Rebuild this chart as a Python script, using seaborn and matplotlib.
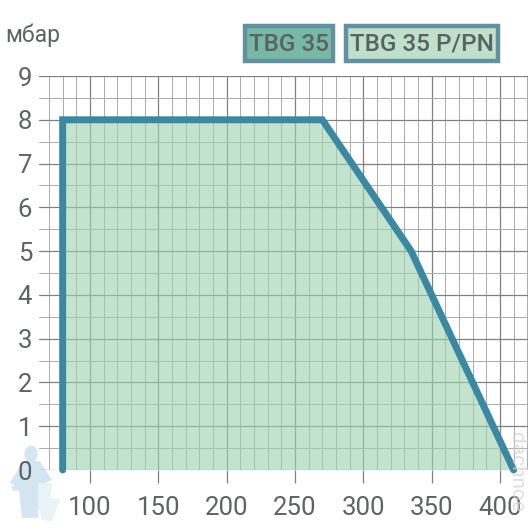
import matplotlib
matplotlib.use("Agg")
import matplotlib.pyplot as plt
import seaborn as sns
import pandas as pd
from matplotlib.patches import Rectangle, Ellipse, Polygon

sns.set_theme(style="white")
plt.rcParams['font.family'] = ['Roboto', 'DejaVu Sans']

power_kw = [80, 80, 270, 335, 410]
pressure_mbar = [0, 8, 8, 5, 0]
x_major = [100, 150, 200, 250, 300, 350, 400]
y_major = [0, 1, 2, 3, 4, 5, 6, 7, 8, 9]
x_grid = list(range(70, 430, 10))
y_grid = [i / 2 for i in range(0, 19)]
labels = ["TBG 35", "TBG 35 P/PN"]
unit = "мбар"
watermark = "dachnoe"
df = pd.DataFrame({"kw": power_kw, "mbar": pressure_mbar})

W = 532
fig = plt.figure(figsize=(W / 100, W / 100), dpi=100)


def px(x, y):
    return x / W, 1 - y / W


def fig_poly(points, color):
    fig.add_artist(Polygon([px(*p) for p in points], closed=True, transform=fig.transFigure,
                           facecolor=color, edgecolor="none", zorder=0))


# pale plumber decoration behind the "0" label
pale = "#d3e6f2"
fig.add_artist(Ellipse(px(31, 454), 13 / W, 17 / W, transform=fig.transFigure,
                       facecolor=pale, edgecolor="none", zorder=0))
fig_poly([(24, 461), (40, 461), (52, 480), (40, 486), (38, 518), (22, 518), (19, 490), (10, 482)], pale)
fig_poly([(11, 487), (34, 480), (35, 486), (13, 491)], pale)
fig_poly([(38, 483), (52, 483), (50, 498), (60, 499), (56, 510), (52, 521), (42, 520), (38, 505)], "#e9f2f7")

L, R, T, B = 39, 527.5, 76, 470
ax = fig.add_axes([L / W, 1 - B / W, (R - L) / W, (B - T) / W])
ax.patch.set_alpha(0)
scale = 68.33 / 50
ax.set_xlim(100 - (90 - L) / scale, 100 + (R - 90) / scale)
ax.set_ylim(0, 9)
for s in ax.spines.values():
    s.set_visible(False)

for v in x_grid:
    major = v in x_major
    ax.axvline(v, color="#7d827e" if major else "#a9acaa", lw=0.9 if major else 0.7, zorder=1)
for v in y_grid:
    whole = v == int(v)
    ax.axhline(v, color="#7d827e" if whole else "#a9acaa", lw=0.9 if whole else 0.7, zorder=1)

ax.fill(df.kw, df.mbar, color="#9ed2b0", alpha=0.62, lw=0, zorder=2)
sns.lineplot(data=df, x="kw", y="mbar", sort=False, estimator=None, color="#3a88a1", lw=5,
             solid_joinstyle="miter", solid_capstyle="round", ax=ax, zorder=3, clip_on=False)

ax.set_xlabel("")
ax.set_ylabel("")
ax.set_xticks(x_major)
ax.set_yticks(y_major)
ax.tick_params(axis="x", length=9, width=0.9, color="#7d827e", labelsize=18.5, labelcolor="#5f6463", pad=10, bottom=True)
ax.tick_params(axis="y", length=0, labelsize=18.5, labelcolor="#5f6463", pad=5)

fig.text(*px(5, 35), unit, fontsize=16.5, color="#5f6463", va="center", ha="left")

boxes = [(245, 26, 88, 35, "#77b9a4", 0), (346, 26, 152, 35, "#bfe0cc", 1)]
for x, y, w, h, c, i in boxes:
    fig.add_artist(Rectangle(px(x, y + h), w / W, h / W, transform=fig.transFigure,
                             facecolor=c, edgecolor="#64919f", lw=3.2))
    fig.text(*px(x + w / 2, y + h / 2 + 1), labels[i], fontsize=17.5, fontweight="medium",
             color="#59635f", ha="center", va="center")

fig.text(*px(516, 472), watermark, rotation=270, fontsize=15, color="#d4d4d4",
         ha="center", va="center", alpha=0.75)

fig.savefig("out.png", dpi=100)
